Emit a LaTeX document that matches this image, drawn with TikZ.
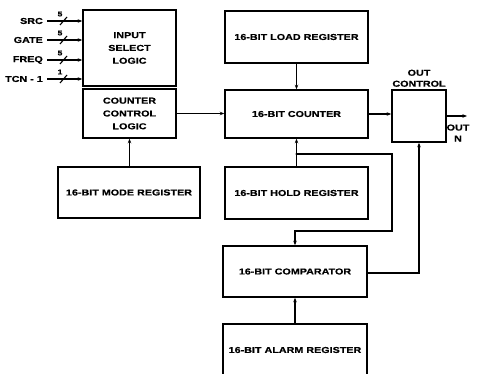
\documentclass[tikz,border=0pt]{standalone}
\usepackage{fontspec}
\setmainfont{Liberation Sans}[FakeStretch=1.25,FakeBold=0.6]
\usetikzlibrary{arrows.meta}
\begin{document}
\begin{tikzpicture}[x=1pt,y=-1pt,
  box/.style={draw,line width=1.6pt,inner sep=0pt,align=center,
    font=\bfseries\fontsize{8.6}{12.8}\selectfont},
  lab/.style={inner sep=0pt,font=\bfseries\fontsize{8.6}{11}\selectfont,align=center},
  num/.style={inner sep=0pt,font=\bfseries\fontsize{7}{7}\selectfont},
  wire/.style={line width=1.1pt},
  arr/.style={wire,-{Stealth[length=4.5pt,width=3.5pt]}}]
\useasboundingbox (0,0) rectangle (485,374);
% boxes
\node[box,minimum width=93,minimum height=76] (insel) at (129.5,48) {INPUT\\SELECT\\LOGIC};
\node[box,minimum width=93,minimum height=49] (cc) at (129.5,113.5) {COUNTER\\CONTROL\\LOGIC};
\node[box,minimum width=142,minimum height=51] (mode) at (129,192.5) {16-BIT MODE REGISTER};
\node[box,minimum width=143,minimum height=52] (load) at (296.5,37) {16-BIT LOAD REGISTER};
\node[box,minimum width=143,minimum height=48] (counter) at (296.5,114) {16-BIT COUNTER};
\node[box,minimum width=143,minimum height=52] (hold) at (296.5,193) {16-BIT HOLD REGISTER};
\node[box,minimum width=144,minimum height=51] (comp) at (295,271.5) {16-BIT COMPARATOR};
\node[box,minimum width=54,minimum height=52] (outc) at (419,116) {};
\node[lab,anchor=south] (outclab) at (419,87) {OUT\\CONTROL};
% alarm register (cut off at bottom)
\draw[line width=1.6pt] (223,376) -- (223,324) -- (367,324) -- (367,376);
\coordinate (alarmtop) at (295,324);
\node[lab] (alarm) at (295,350) {16-BIT ALARM REGISTER};
% inputs
\foreach \nm/\txt/\yy/\n in {src/SRC/21/5,gate/GATE/40/5,freq/FREQ/60/5,tcn/TCN - 1/79/1}{
  \node[lab,anchor=east] (l\nm) at (43,\yy) {\txt};
  \coordinate (s\nm) at (47,\yy);
  \draw[arr] (s\nm) -- (s\nm -| insel.west);
  \draw[wire] (60,\yy+4) -- (67,\yy-4);
  \node[num] (n\nm) at (60,\yy-7) {\n};
}
% connectors
\draw[arr] (cc.east) -- (cc.east -| counter.west);
\draw[arr] (mode.north -| cc.south) -- (cc.south);
\draw[arr] (load.south) -- (counter.north);
\draw[arr] (hold.north) -- (counter.south);
\coordinate (j) at (296.5,154);
\fill (j) circle (1.2pt);
\coordinate (r1) at (392,154);
\coordinate (r2) at (392,231);
\draw[arr] (j) -- (r1) -- (r2) -- (r2 -| comp.north) -- (comp.north);
\draw[arr] (alarmtop) -- (comp.south);
\draw[arr] (counter.east) -- (counter.east -| outc.west);
\coordinate (c1) at (419,273);
\draw[arr] (comp.east |- c1) -- (c1) -- (outc.south);
\coordinate (oend) at (467,116);
\draw[arr] (outc.east) -- (oend);
\node[lab] (outn) at (458,133) {OUT\\N};
\end{tikzpicture}
\end{document}
